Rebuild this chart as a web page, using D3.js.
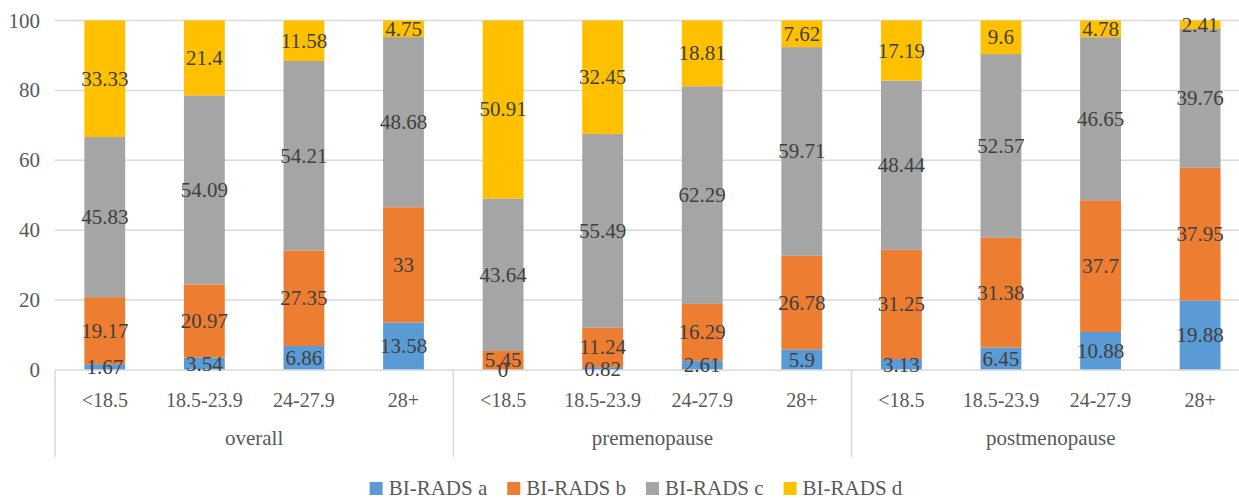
<!DOCTYPE html>
<html>
<head>
<meta charset="utf-8">
<script src="https://cdn.jsdelivr.net/npm/d3@7"></script>
<style>
  html, body { margin: 0; padding: 0; background: #fff; overflow: hidden; }
  svg { display: block; }
</style>
</head>
<body>
<svg id="chart" width="1239" height="498" font-family="'Liberation Serif', 'DejaVu Serif', serif"></svg>
<script>
// Groups and BMI categories
const groups = ["overall", "premenopause", "postmenopause"];
const categories = ["<18.5", "18.5-23.9", "24-27.9", "28+"];
const seriesNames = ["BI-RADS a", "BI-RADS b", "BI-RADS c", "BI-RADS d"];
const seriesColors = ["#5B9BD5", "#ED7D31", "#A5A5A5", "#FFC000"];

// Percentages per series, ordered group by group, category by category
const biradsA = [1.67, 3.54, 6.86, 13.58,  0, 0.82, 2.61, 5.9,     3.13, 6.45, 10.88, 19.88];
const biradsB = [19.17, 20.97, 27.35, 33,  5.45, 11.24, 16.29, 26.78,  31.25, 31.38, 37.7, 37.95];
const biradsC = [45.83, 54.09, 54.21, 48.68,  43.64, 55.49, 62.29, 59.71,  48.44, 52.57, 46.65, 39.76];
const biradsD = [33.33, 21.4, 11.58, 4.75,  50.91, 32.45, 18.81, 7.62,  17.19, 9.6, 4.78, 2.41];
const yTicks = [0, 20, 40, 60, 80, 100];

const svg = d3.select("#chart");
const plotLeft = 55, groupWidth = 398.3, plotTop = 20.5, plotBottom = 370;
const plotRight = plotLeft + groupWidth * groups.length;
const fontSize = 21;

const y = d3.scaleLinear().domain([0, 100]).range([plotBottom, plotTop]);
const xGroup = d3.scaleBand().domain(groups).range([plotLeft, plotRight]).padding(0);
const xCat = d3.scaleBand().domain(categories).range([0, xGroup.bandwidth()]).paddingInner(0.59).paddingOuter(0.295);

// rows for the stack
const rows = [];
groups.forEach((g, gi) => categories.forEach((c, ci) => {
  const i = gi * categories.length + ci;
  rows.push({ group: g, cat: c, "BI-RADS a": biradsA[i], "BI-RADS b": biradsB[i], "BI-RADS c": biradsC[i], "BI-RADS d": biradsD[i] });
}));
const stacked = d3.stack().keys(seriesNames)(rows);

// gridlines
svg.append("g").selectAll("line").data(yTicks.filter(t => t > 0)).join("line")
  .attr("x1", plotLeft).attr("x2", plotRight)
  .attr("y1", d => y(d)).attr("y2", d => y(d))
  .attr("stroke", "#d9d9d9").attr("stroke-width", 1.5);

// y tick labels
svg.append("g").selectAll("text").data(yTicks).join("text")
  .attr("x", 40).attr("y", d => y(d) + 7)
  .attr("text-anchor", "end").attr("font-size", fontSize).attr("fill", "#595959")
  .text(d => d);

const xPos = d => xGroup(d.data.group) + xCat(d.data.cat);

// bars
stacked.forEach((layer, si) => {
  svg.append("g").attr("fill", seriesColors[si]).selectAll("rect").data(layer).join("rect")
    .attr("x", xPos).attr("width", xCat.bandwidth())
    .attr("y", d => y(d[1])).attr("height", d => y(d[0]) - y(d[1]));
});

// category axis line and group separators
svg.append("line").attr("x1", plotLeft).attr("x2", plotRight).attr("y1", plotBottom).attr("y2", plotBottom)
  .attr("stroke", "#d9d9d9").attr("stroke-width", 1.5);
svg.append("g").selectAll("line").data(groups.concat(["end"])).join("line")
  .attr("x1", (d, i) => plotLeft + i * xGroup.bandwidth()).attr("x2", (d, i) => plotLeft + i * xGroup.bandwidth())
  .attr("y1", plotBottom).attr("y2", 457)
  .attr("stroke", "#d9d9d9").attr("stroke-width", 1.5);

// value labels
stacked.forEach((layer, si) => {
  svg.append("g").selectAll("text").data(layer).join("text")
    .attr("x", d => xPos(d) + xCat.bandwidth() / 2)
    .attr("y", d => (y(d[0]) + y(d[1])) / 2 + 7)
    .attr("text-anchor", "middle").attr("font-size", fontSize).attr("fill", "#404040")
    .text(d => d.data[seriesNames[si]]);
});

// category labels
svg.append("g").selectAll("text").data(rows).join("text")
  .attr("x", d => xGroup(d.group) + xCat(d.cat) + xCat.bandwidth() / 2)
  .attr("y", 407)
  .attr("text-anchor", "middle").attr("font-size", 20).attr("fill", "#595959")
  .text(d => d.cat);

// group labels
svg.append("g").selectAll("text").data(groups).join("text")
  .attr("x", d => xGroup(d) + xGroup.bandwidth() / 2)
  .attr("y", 445)
  .attr("text-anchor", "middle").attr("font-size", fontSize).attr("fill", "#595959")
  .text(d => d);

// legend: swatch + label, laid out by measured label width and centred
const swatch = 13, swatchGap = 6, itemGap = 20, legendCenter = 636;
const legend = svg.append("g");
const items = legend.selectAll("g").data(seriesNames).join("g");
items.append("rect").attr("y", 482).attr("width", swatch).attr("height", swatch)
  .attr("fill", (d, i) => seriesColors[i]);
items.append("text").attr("x", swatch + swatchGap).attr("y", 494.5)
  .attr("font-size", 21).attr("fill", "#595959").text(d => d);
let cursor = 0;
const offsets = [];
items.each(function () {
  offsets.push(cursor);
  const w = d3.select(this).select("text").node().getComputedTextLength();
  cursor += swatch + swatchGap + w + itemGap;
});
const totalWidth = cursor - itemGap;
items.attr("transform", (d, i) => `translate(${legendCenter - totalWidth / 2 + offsets[i]},0)`);
</script>
</body>
</html>
